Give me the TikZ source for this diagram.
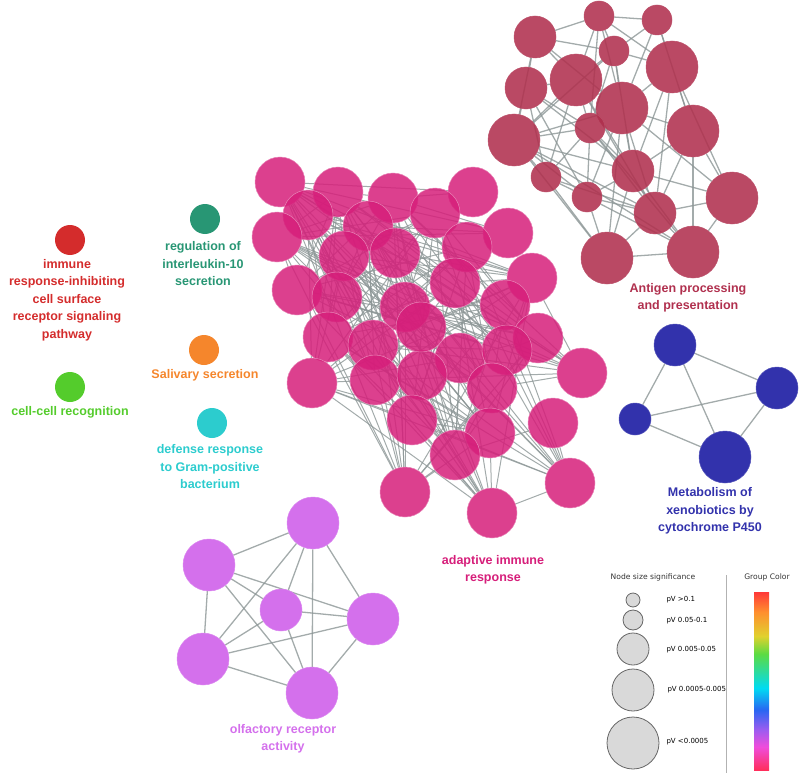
\documentclass[tikz,border=0pt]{standalone}
\usepackage{fontspec}
\setmainfont{Liberation Sans}
\newfontfamily\legendfont{DejaVu Sans}
\usetikzlibrary{backgrounds}

\definecolor{antigen}{RGB}{176,48,78}
\definecolor{adaptive}{RGB}{214,30,122}
\definecolor{xeno}{RGB}{50,50,172}
\definecolor{olfact}{RGB}{212,112,236}
\definecolor{immred}{RGB}{212,44,44}
\definecolor{ilteal}{RGB}{40,150,116}
\definecolor{salorange}{RGB}{245,134,44}
\definecolor{cellgreen}{RGB}{84,204,44}
\definecolor{defcyan}{RGB}{44,204,206}
\definecolor{linkgray}{RGB}{140,150,150}

\pgfdeclareverticalshading{groupbar}{100bp}{%
  rgb(0bp)=(1,0.18,0.36); rgb(25bp)=(1,0.18,0.36); rgb(31.5bp)=(0.94,0.3,0.86);
  rgb(36.2bp)=(0.62,0.36,0.94); rgb(41.9bp)=(0.16,0.4,0.95); rgb(48bp)=(0,0.86,0.95);
  rgb(57.6bp)=(0.36,0.86,0.26); rgb(62.6bp)=(0.88,0.82,0.18); rgb(69.4bp)=(1,0.56,0.18);
  rgb(75bp)=(1,0.22,0.22); rgb(100bp)=(1,0.22,0.22)}

\begin{document}
\begin{tikzpicture}[x=1pt, y=-1pt,
  term/.style={circle, inner sep=0pt, line width=0.5pt},
  agnode/.style={term, fill=antigen, fill opacity=0.88, draw=antigen!85!white},
  adnode/.style={term, fill=adaptive, fill opacity=0.85, draw=adaptive!55!white, minimum size=50},
  xbnode/.style={term, fill=xeno, draw=xeno!85!white},
  ornode/.style={term, fill=olfact, draw=olfact!85!white},
  single/.style={term, minimum size=30},
  link/.style={draw=linkgray, line width=1pt, opacity=0.8},
  lbl/.style={font=\bfseries\fontsize{12.5}{17.5}\selectfont, align=center},
  sizekey/.style={circle, draw=gray!80!black, fill=gray!30, line width=0.8pt, inner sep=0pt},
  keytext/.style={font=\legendfont\fontsize{7}{8.5}\selectfont, anchor=west},
  keytitle/.style={font=\legendfont\fontsize{7.6}{9}\selectfont, text=black!80}
]
  \useasboundingbox (0,0) rectangle (800,773);

  % antigen processing
  \node[agnode, minimum size=42] (ag1) at (535, 37) {};
  \node[agnode, minimum size=30] (ag2) at (599, 16) {};
  \node[agnode, minimum size=30] (ag3) at (657, 20) {};
  \node[agnode, minimum size=30] (ag4) at (614, 51) {};
  \node[agnode, minimum size=52] (ag5) at (576, 80) {};
  \node[agnode, minimum size=52] (ag6) at (672, 67) {};
  \node[agnode, minimum size=42] (ag7) at (526, 88) {};
  \node[agnode, minimum size=52] (ag8) at (622, 108) {};
  \node[agnode, minimum size=30] (ag9) at (590, 128) {};
  \node[agnode, minimum size=52] (ag10) at (514, 140) {};
  \node[agnode, minimum size=52] (ag11) at (693, 131) {};
  \node[agnode, minimum size=30] (ag12) at (546, 177) {};
  \node[agnode, minimum size=42] (ag13) at (633, 171) {};
  \node[agnode, minimum size=30] (ag14) at (587, 197) {};
  \node[agnode, minimum size=42] (ag15) at (655, 213) {};
  \node[agnode, minimum size=52] (ag16) at (732, 198) {};
  \node[agnode, minimum size=52] (ag17) at (607, 258) {};
  \node[agnode, minimum size=52] (ag18) at (693, 252) {};
  \node[lbl, text=antigen] (aglbl) at (688, 298) {Antigen processing\\and presentation};

  % adaptive immune response
  \node[adnode] (ad1) at (280, 182) {};
  \node[adnode] (ad2) at (338, 192) {};
  \node[adnode] (ad3) at (393, 198) {};
  \node[adnode] (ad4) at (473, 192) {};
  \node[adnode] (ad5) at (308, 215) {};
  \node[adnode] (ad6) at (368, 226) {};
  \node[adnode] (ad7) at (435, 213) {};
  \node[adnode] (ad8) at (277, 237) {};
  \node[adnode] (ad9) at (508, 233) {};
  \node[adnode] (ad10) at (344, 256) {};
  \node[adnode] (ad11) at (395, 253) {};
  \node[adnode] (ad12) at (467, 247) {};
  \node[adnode] (ad13) at (297, 290) {};
  \node[adnode] (ad14) at (337, 297) {};
  \node[adnode] (ad15) at (455, 283) {};
  \node[adnode] (ad16) at (532, 278) {};
  \node[adnode] (ad17) at (505, 305) {};
  \node[adnode] (ad18) at (405, 307) {};
  \node[adnode] (ad20) at (328, 337) {};
  \node[adnode] (ad21) at (373, 345) {};
  \node[adnode] (ad22) at (460, 358) {};
  \node[adnode] (ad23) at (538, 338) {};
  \node[adnode] (ad24) at (507, 350) {};
  \node[adnode] (ad25) at (312, 383) {};
  \node[adnode] (ad26) at (375, 380) {};
  \node[adnode] (ad27) at (422, 375) {};
  \node[adnode] (ad28) at (492, 388) {};
  \node[adnode] (ad29) at (582, 373) {};
  \node[adnode] (ad30) at (412, 420) {};
  \node[adnode] (ad31) at (490, 433) {};
  \node[adnode] (ad32) at (553, 423) {};
  \node[adnode] (ad33) at (455, 455) {};
  \node[adnode] (ad34) at (405, 492) {};
  \node[adnode] (ad35) at (570, 483) {};
  \node[adnode] (ad36) at (492, 513) {};
  \node[adnode] (ad19) at (421, 327) {};
  \node[lbl, text=adaptive] (adlbl) at (493, 570) {adaptive immune\\response};

  % xenobiotics
  \node[xbnode, minimum size=42] (xb1) at (675, 345) {};
  \node[xbnode, minimum size=42] (xb2) at (777, 388) {};
  \node[xbnode, minimum size=32] (xb3) at (635, 419) {};
  \node[xbnode, minimum size=52] (xb4) at (725, 457) {};
  \node[lbl, text=xeno] (xblbl) at (710, 511) {Metabolism of\\xenobiotics by\\cytochrome P450};

  % olfactory
  \node[ornode, minimum size=52] (or1) at (313, 523) {};
  \node[ornode, minimum size=52] (or2) at (209, 565) {};
  \node[ornode, minimum size=42] (or3) at (281, 610) {};
  \node[ornode, minimum size=52] (or4) at (373, 619) {};
  \node[ornode, minimum size=52] (or5) at (203, 659) {};
  \node[ornode, minimum size=52] (or6) at (312, 693) {};
  \node[lbl, text=olfact] (orlbl) at (283, 739) {olfactory receptor\\activity};

  % single terms
  \node[single, fill=immred] (immune) at (70, 240) {};
  \node[lbl, text=immred] (immunelbl) at (67, 300) {immune\\response-inhibiting\\cell surface\\receptor signaling\\pathway};
  \node[single, fill=ilteal] (il10) at (205, 219) {};
  \node[lbl, text=ilteal] (il10lbl) at (203, 264) {regulation of\\interleukin-10\\secretion};
  \node[single, fill=salorange] (saliva) at (204, 350) {};
  \node[lbl, text=salorange] (salivalbl) at (205, 375) {Salivary secretion};
  \node[single, fill=cellgreen] (cellrec) at (70, 387) {};
  \node[lbl, text=cellgreen] (cellreclbl) at (70, 412) {cell-cell recognition};
  \node[single, fill=defcyan] (defense) at (212, 423) {};
  \node[lbl, text=defcyan] (defenselbl) at (210, 467) {defense response\\to Gram-positive\\bacterium};

  % edges
  \begin{scope}[on background layer]
    \foreach \i/\js in {1/{2,4,5,7,8,10}, 2/{3,4,5,6,8,9}, 3/{4,6,8,11}, 4/{5,6,8,9,10,13},
        5/{7,8,9,10,12,13,15}, 6/{8,11,13,15,16}, 7/{9,10,12,13,14}, 8/{9,10,11,13,14,15,16,17},
        9/{10,12,13,14,15,18}, 10/{12,13,14,15,17,18}, 11/{13,15,16,18}, 12/{14,15,17},
        13/{14,15,16,17,18}, 14/{15,17,18}, 15/{16,17,18}, 16/{18}, 17/{18}}
      \foreach \j in \js
        \draw[link, line width=1.3pt] (ag\i) -- (ag\j);
    \foreach \i in {1,...,35}
      \foreach \j in {\i,...,36} {
        \pgfmathtruncatemacro\pick{mod(\i*\j+3*\i+\j,5)}
        \ifnum\j>\i \ifnum\pick<2 \draw[link] (ad\i) -- (ad\j); \fi\fi
      }
    \foreach \i/\j in {1/2, 1/3, 1/4, 3/2, 3/4, 4/2}
      \draw[link, line width=1.3pt] (xb\i) -- (xb\j);
    \foreach \i in {1,...,5}
      \foreach \j in {\i,...,6} {
        \ifnum\j>\i \draw[link, line width=1.3pt] (or\i) -- (or\j); \fi
      }
  \end{scope}

  % legend
  \node[keytitle] (sizettl) at (653, 577) {Node size significance};
  \node[keytitle] (colttl) at (767, 577) {Group Color};
  \node[sizekey, minimum size=14] (key1) at (633, 600) {};
  \node[sizekey, minimum size=20] (key2) at (633, 620) {};
  \node[sizekey, minimum size=32] (key3) at (633, 649) {};
  \node[sizekey, minimum size=42] (key4) at (633, 690) {};
  \node[sizekey, minimum size=52] (key5) at (633, 743) {};
  \node[keytext] (key1lbl) at (663, 600) {pV >0.1};
  \node[keytext] (key2lbl) at (663, 621) {pV 0.05-0.1};
  \node[keytext] (key3lbl) at (663, 650) {pV 0.005-0.05};
  \node[keytext] (key4lbl) at (664, 690) {pV 0.0005-0.005};
  \node[keytext] (key5lbl) at (663, 742) {pV <0.0005};
  \coordinate (septop) at (726, 575);
  \coordinate (sepbot) at (726, 773);
  \draw[gray!60, line width=0.7pt] (septop) -- (sepbot);
  \shade[shading=groupbar] (754, 592) rectangle (769, 770);
\end{tikzpicture}
\end{document}
